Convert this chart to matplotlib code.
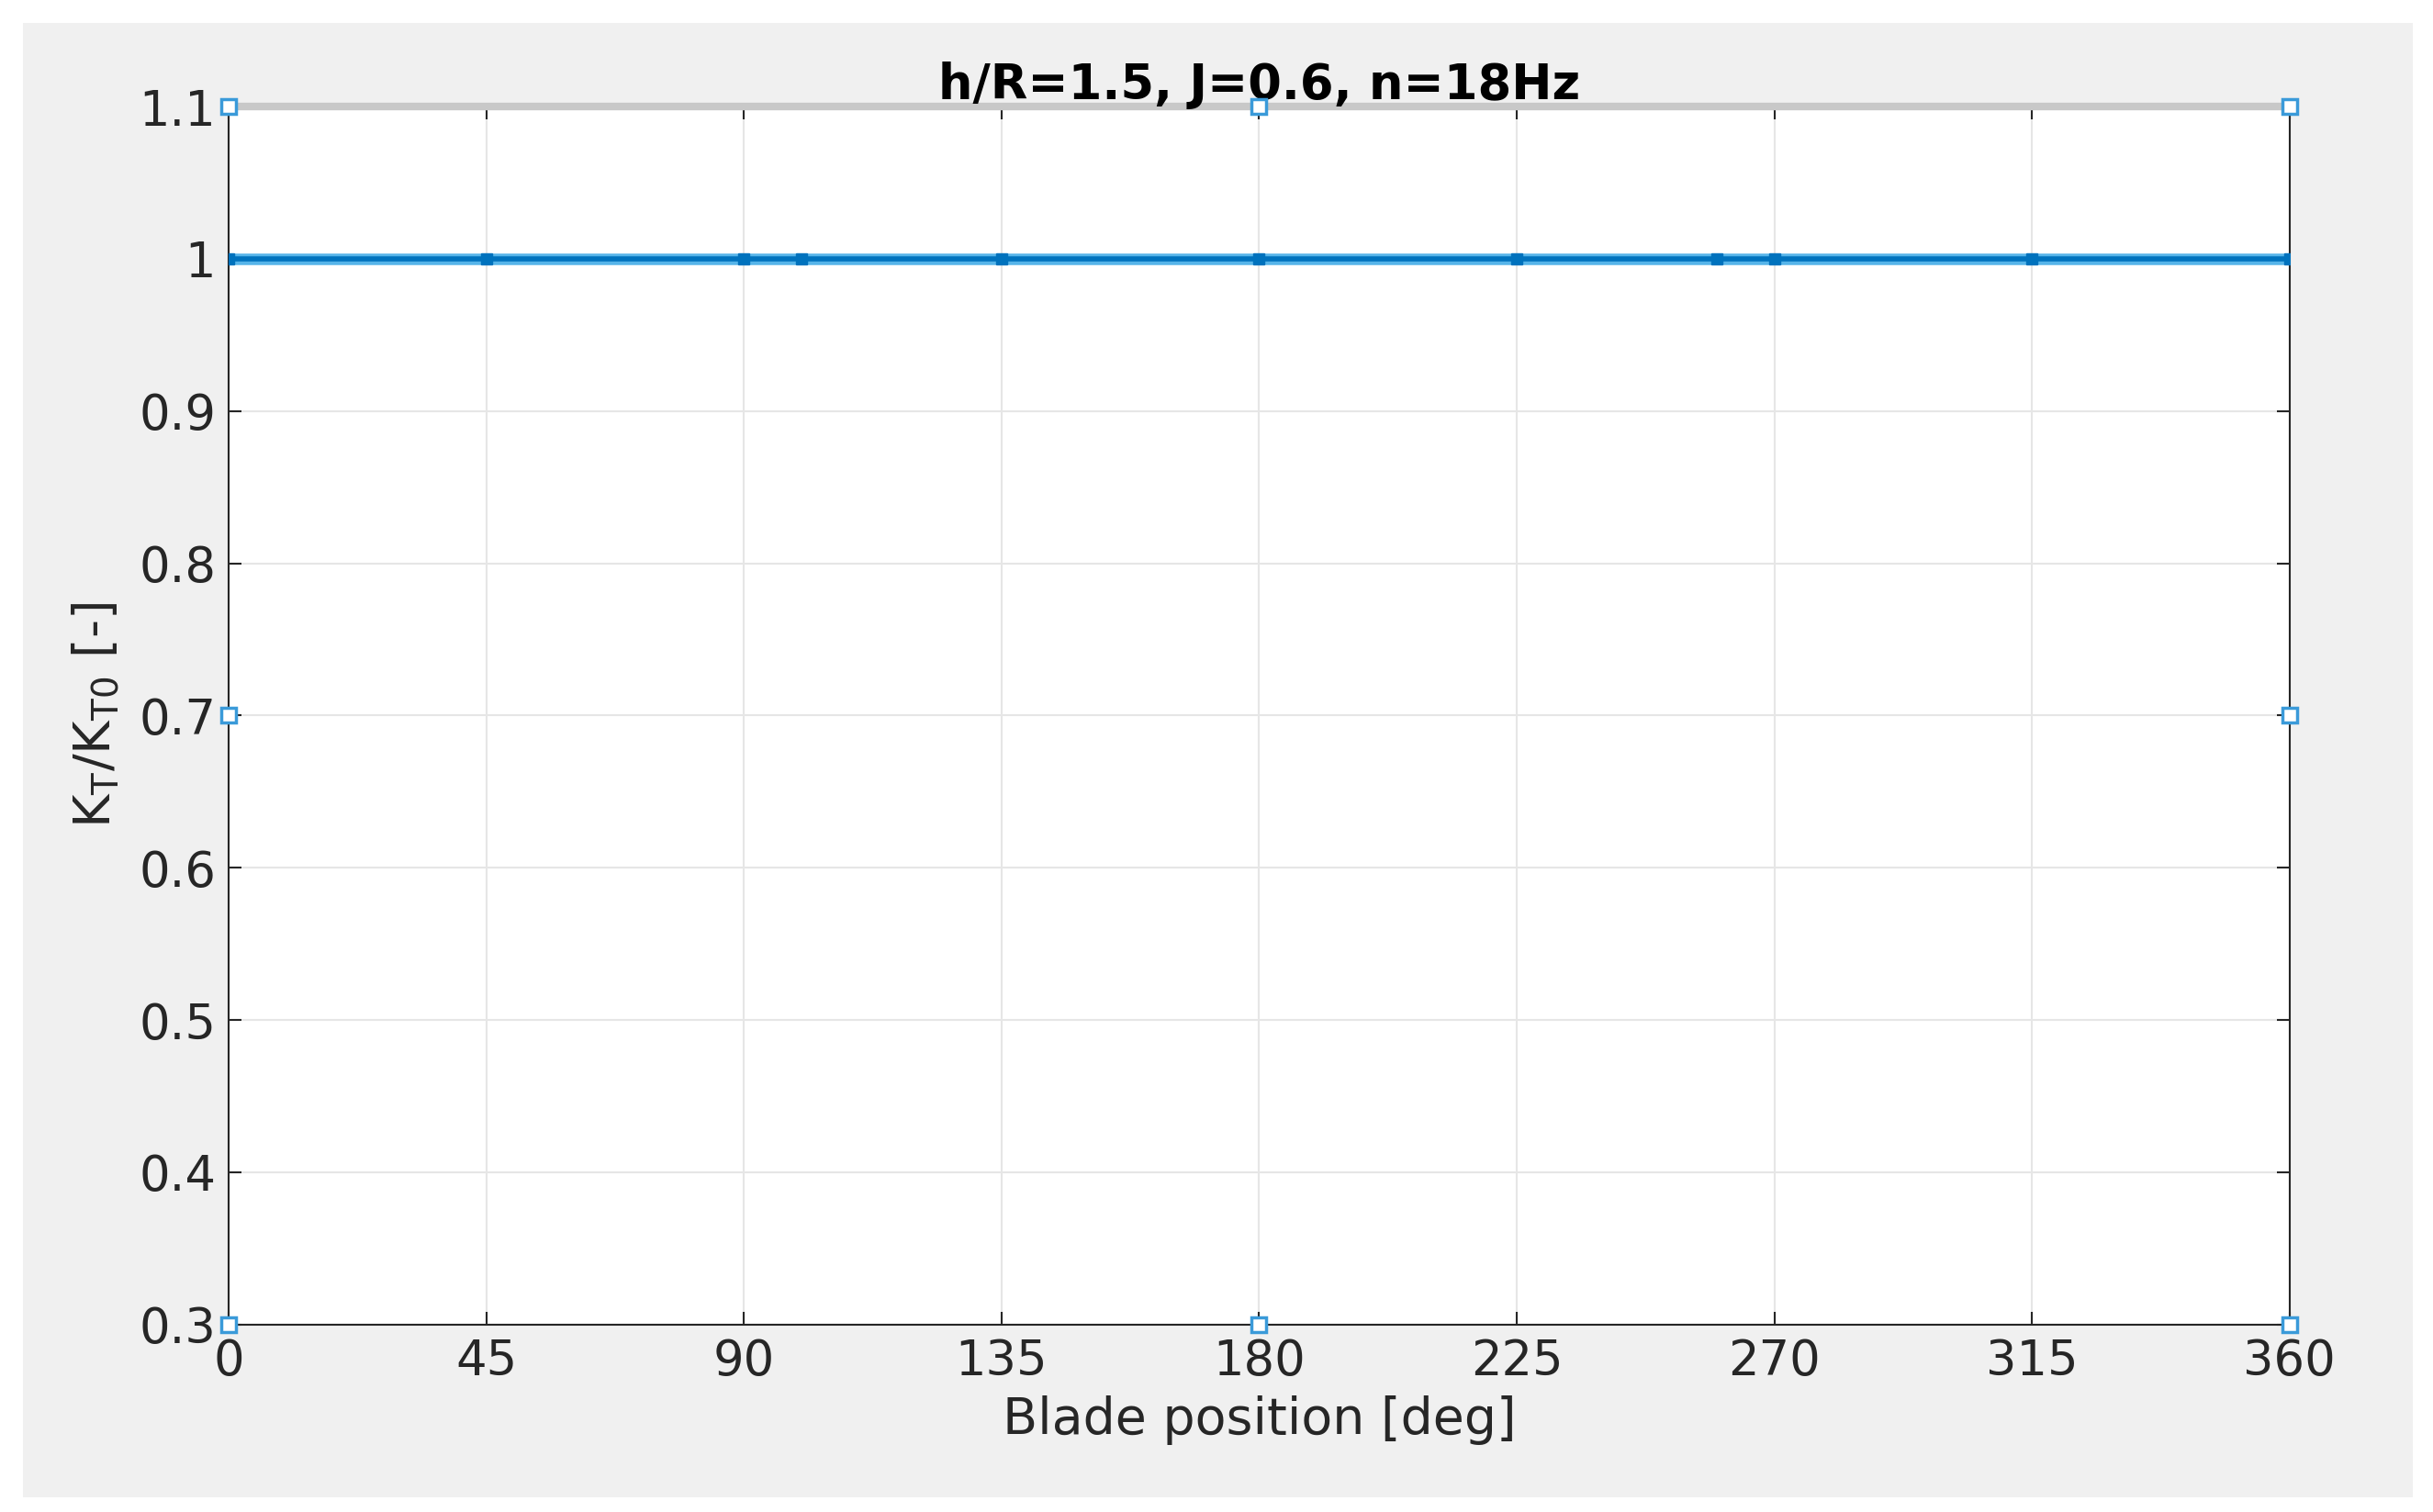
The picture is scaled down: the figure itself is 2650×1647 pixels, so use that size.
import matplotlib.pyplot as plt
from matplotlib.patches import Rectangle

blade_pos = [0, 45, 90, 100, 135, 180, 225, 260, 270, 315, 360]
kt_ratio = [1, 1, 1, 1, 1, 1, 1, 1, 1, 1, 1]
tip_x = [0, 0, 0, 180, 180, 360, 360, 360]
tip_y = [1.1, 0.7, 0.3, 1.1, 0.3, 1.1, 0.7, 0.3]
xticks = [0, 45, 90, 135, 180, 225, 270, 315, 360]
yticks = [0.3, 0.4, 0.5, 0.6, 0.7, 0.8, 0.9, 1.0, 1.1]
ylabels = ['0.3', '0.4', '0.5', '0.6', '0.7', '0.8', '0.9', '1', '1.1']

fig = plt.figure(figsize=(26.5, 16.47), dpi=100, facecolor='white')
fig.patches.append(Rectangle((0.0096, 0.01), 0.982, 0.975, transform=fig.transFigure,
                             facecolor='#f0f0f0', edgecolor='none', zorder=-10))
ax = fig.add_axes([0.094, 0.124, 0.847, 0.8055])
ax.set_zorder(1)
ax.set_facecolor('white')

ax.plot(blade_pos, kt_ratio, color='#56b4e9', lw=9, solid_capstyle='butt', zorder=3)
ax.plot(blade_pos, kt_ratio, color='#0072bd', lw=4, marker='s', ms=8, zorder=4)
ax.plot(tip_x, tip_y, ls='none', marker='s', ms=11, mfc='white', mec='#3a9ad9',
        mew=2.5, zorder=5, clip_on=False)

ax.set_xlim(0, 360)
ax.set_ylim(0.3, 1.1)
ax.set_xticks(xticks)
ax.set_yticks(yticks)
ax.set_yticklabels(ylabels)
ax.grid(True, color='#e6e6e6', lw=1.5)
ax.tick_params(labelsize=38, colors='#262626', length=10, width=1.5, direction='in',
               top=True, right=True, pad=10)
for s in ax.spines.values():
    s.set_color('#262626')
    s.set_linewidth(1.5)
ax.spines['top'].set_color('#c8c8c8')
ax.spines['top'].set_linewidth(6)

ax.set_xlabel('Blade position [deg]', fontsize=40, color='#262626', labelpad=8)
ax.set_ylabel(r'K$_\mathrm{T}$/K$_\mathrm{T0}$ [-]', fontsize=40, color='#262626', labelpad=14)
ax.set_title('h/R=1.5, J=0.6, n=18Hz', fontsize=38, fontweight='bold', pad=6)

fig.savefig('out.png', dpi=100)
